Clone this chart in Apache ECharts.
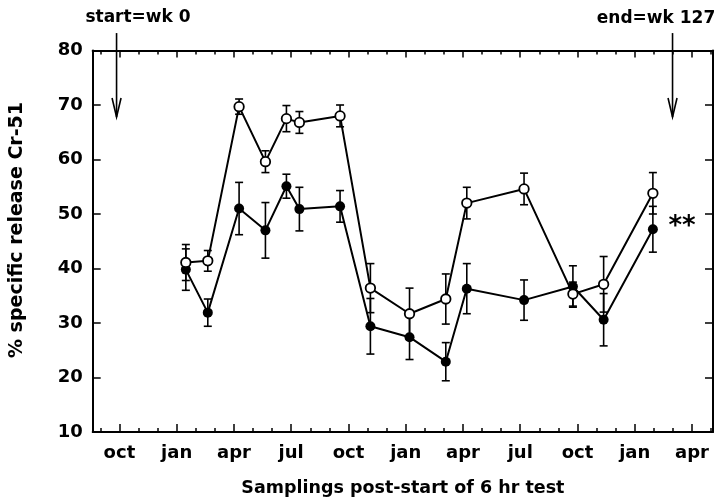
<!DOCTYPE html>
<html><head><meta charset="utf-8">
<script src="https://cdn.jsdelivr.net/npm/echarts@6/dist/echarts.min.js"></script>
<style>html,body{margin:0;padding:0;background:#fff}#c{width:720px;height:502px}</style>
</head><body><div id="c"></div>
<script>
// x positions in months since the first October shown (oct = 0, jan = 3, ...)
const months     = [3.48, 4.63, 6.27, 7.65, 8.75, 9.43, 11.56, 13.15, 15.2, 17.1, 18.2, 21.2, 23.76, 25.37, 27.95];
const openVals   = [41.1, 41.4, 69.7, 59.6, 67.5, 66.8, 68.0, 36.4, 31.7, 34.4, 52.0, 54.6, 35.3, 37.1, 53.8];
const openErr    = [3.3, 1.9, 1.4, 2.0, 2.4, 2.0, 2.0, 4.5, 4.7, 4.6, 2.9, 2.9, 2.2, 5.1, 3.8];
const filledVals = [39.8, 31.9, 51.0, 47.0, 55.1, 50.9, 51.4, 29.4, 27.4, 22.9, 36.3, 34.2, 36.7, 30.6, 47.2];
const filledErr  = [3.8, 2.5, 4.8, 5.1, 2.2, 4.0, 2.9, 5.1, 4.1, 3.5, 4.6, 3.7, 3.8, 4.8, 4.2];
const monthNames = ['oct', 'jan', 'apr', 'jul'];
const labelTicks = [0, 3, 6, 9, 12, 15, 18, 21, 24, 27, 30];
const minorTicks = [-1,0,1,2,3,4,5,6,7,8,9,10,11,12,13,14,15,16,17,18,19,20,21,22,23,24,25,26,27,28,29,30,31];
const arrowMonths = [-0.15, 28.98];   // start = wk 0, end = wk 127
const arrowRange  = [83.2, 67.8];     // arrow top / tip in y units

const FONT = 'DejaVu Sans';
const X_MIN = -1.4, X_MAX = 31.1;

const chart = echarts.init(document.getElementById('c'), null, {renderer: 'canvas'});

function errRender(params, api) {
  const x = api.value(0), y = api.value(1), e = api.value(2);
  const t = api.coord([x, y + e]), b = api.coord([x, y - e]);
  const w = 4, st = {stroke: '#000', lineWidth: 1.6};
  return {type: 'group', children: [
    {type: 'line', shape: {x1: t[0], y1: t[1], x2: b[0], y2: b[1]}, style: st},
    {type: 'line', shape: {x1: t[0] - w, y1: t[1], x2: t[0] + w, y2: t[1]}, style: st},
    {type: 'line', shape: {x1: b[0] - w, y1: b[1], x2: b[0] + w, y2: b[1]}, style: st}
  ]};
}
function arrowRender(params, api) {
  const x = api.value(0);
  const t = api.coord([x, api.value(1)]), b = api.coord([x, api.value(2)]);
  const st = {stroke: '#000', lineWidth: 1.6, fill: null};
  return {type: 'group', children: [
    {type: 'line', shape: {x1: t[0], y1: t[1], x2: b[0], y2: b[1]}, style: st},
    {type: 'polyline', shape: {points: [[b[0] - 4.5, b[1] - 19], [b[0], b[1]], [b[0] + 4.5, b[1] - 19]]}, style: st}
  ]};
}

const baseX = {type: 'value', min: X_MIN, max: X_MAX, splitLine: {show: false}};
const lineAxis = {show: true, onZero: false, lineStyle: {color: '#000', width: 2}};
const noLine = {show: false, onZero: false};

const option = {
  animation: false,
  backgroundColor: '#fff',
  grid: {left: 92.7, right: 7, top: 50.5, bottom: 69.5, containLabel: false},
  xAxis: [
    Object.assign({}, baseX, {
      position: 'bottom', axisLine: lineAxis,
      axisTick: {show: true, inside: true, length: 4, customValues: minorTicks, lineStyle: {color: '#000', width: 1.5}},
      axisLabel: {show: true, customValues: labelTicks, margin: 12, color: '#000', fontFamily: FONT, fontWeight: 'bold', fontSize: 18,
        formatter: v => monthNames[Math.round(v / 3) % 4]},
      name: 'Samplings post-start of 6 hr test', nameLocation: 'middle', nameGap: 47,
      nameTextStyle: {color: '#000', fontFamily: FONT, fontWeight: 'bold', fontSize: 17.5}
    }),
    Object.assign({}, baseX, {
      position: 'bottom', axisLine: noLine,
      axisTick: {show: true, inside: true, length: 8, customValues: labelTicks, lineStyle: {color: '#000', width: 1.5}},
      axisLabel: {show: false}
    }),
    Object.assign({}, baseX, {
      position: 'top', axisLine: lineAxis,
      axisTick: {show: true, inside: true, length: 4, customValues: minorTicks, lineStyle: {color: '#000', width: 1.5}},
      axisLabel: {show: false}
    }),
    Object.assign({}, baseX, {
      position: 'top', axisLine: noLine,
      axisTick: {show: true, inside: true, length: 7, customValues: labelTicks, lineStyle: {color: '#000', width: 1.5}},
      axisLabel: {show: false}
    })
  ],
  yAxis: [
    {type: 'value', min: 10, max: 80, interval: 10, position: 'left', splitLine: {show: false},
      axisLine: lineAxis,
      axisTick: {show: true, inside: true, length: 8, lineStyle: {color: '#000', width: 1.5}},
      axisLabel: {color: '#000', margin: 10, fontFamily: FONT, fontWeight: 'bold', fontSize: 18}},
    {type: 'value', min: 10, max: 80, interval: 10, position: 'right', splitLine: {show: false},
      axisLine: lineAxis,
      axisTick: {show: true, inside: true, length: 8, lineStyle: {color: '#000', width: 1.5}},
      axisLabel: {show: false}}
  ],
  graphic: [
    {type: 'text', x: 17, y: 230, rotation: Math.PI / 2,
      style: {text: '% specific release Cr-51', fill: '#000', font: 'bold 19px "DejaVu Sans"', align: 'center', verticalAlign: 'middle'}},
    {type: 'text', x: 138, y: 18,
      style: {text: 'start=wk 0', fill: '#000', font: 'bold 17px "DejaVu Sans"', align: 'center', verticalAlign: 'middle'}},
    {type: 'text', x: 656, y: 19,
      style: {text: 'end=wk 127', fill: '#000', font: 'bold 17px "DejaVu Sans"', align: 'center', verticalAlign: 'middle'}},
    {type: 'text', x: 682, y: 227,
      style: {text: '**', fill: '#000', font: 'bold 26px "DejaVu Sans"', align: 'center', verticalAlign: 'middle'}}
  ],
  series: [
    {type: 'custom', name: 'filledErr', xAxisIndex: 0, yAxisIndex: 0, z: 1, renderItem: errRender,
      data: months.map((m, i) => [m, filledVals[i], filledErr[i]])},
    {type: 'custom', name: 'openErr', xAxisIndex: 0, yAxisIndex: 0, z: 1, renderItem: errRender,
      data: months.map((m, i) => [m, openVals[i], openErr[i]])},
    {type: 'line', name: 'filled', xAxisIndex: 0, yAxisIndex: 0, z: 3,
      data: months.map((m, i) => [m, filledVals[i]]),
      symbol: 'circle', symbolSize: 10,
      lineStyle: {color: '#000', width: 2},
      itemStyle: {color: '#000', borderColor: '#000', borderWidth: 0}},
    {type: 'line', name: 'open', xAxisIndex: 0, yAxisIndex: 0, z: 4,
      data: months.map((m, i) => [m, openVals[i]]),
      symbol: 'circle', symbolSize: 9.5,
      lineStyle: {color: '#000', width: 2},
      itemStyle: {color: '#fff', borderColor: '#000', borderWidth: 1.8}},
    {type: 'custom', name: 'arrows', xAxisIndex: 0, yAxisIndex: 0, z: 5, clip: false, renderItem: arrowRender,
      data: arrowMonths.map(m => [m, arrowRange[0], arrowRange[1]])}
  ]
};
chart.setOption(option);
</script>
</body></html>
